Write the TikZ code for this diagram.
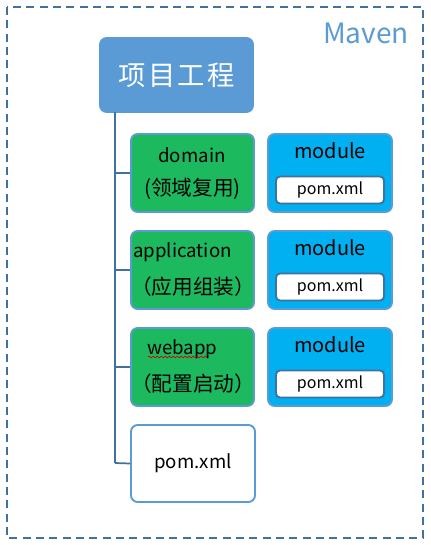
\documentclass[tikz,border=0pt]{standalone}
\usepackage{fontspec}
\setmainfont{Noto Sans CJK SC}
\usetikzlibrary{decorations.pathmorphing}
\definecolor{mblue}{HTML}{5B9BD5}
\definecolor{dblue}{HTML}{41719C}
\definecolor{mgreen}{HTML}{1DB95E}
\definecolor{mcyan}{HTML}{00B0F0}
\tikzset{
  box/.style={rounded corners=5pt, line width=1.4pt, draw=mblue},
  greenbox/.style={box, fill=mgreen},
  modbox/.style={box, fill=mcyan},
  innerbox/.style={rounded corners=3pt, line width=1.4pt, draw=dblue, fill=white},
  conn/.style={draw=dblue, line width=1.3pt},
  txt/.style={text=black, inner sep=0pt, font=\fontsize{14}{16}\selectfont},
  cjktxt/.style={text=black, inner sep=0pt, font=\fontsize{15.5}{17}\selectfont},
}
\begin{document}
\begin{tikzpicture}[x=0.75pt,y=-0.75pt]
\useasboundingbox (0,0) rectangle (430,545);
% outer dashed frame
\draw[dblue, line width=1.5pt, dash pattern=on 6pt off 4pt] (7,7) rectangle (423,538);
\node[text=mblue, inner sep=0pt, anchor=east, font=\fontsize{21}{24}\selectfont] (maven) at (409,33) {Maven};
% title
\node[box, fill=mblue, minimum width=153*0.75pt, minimum height=74*0.75pt, text=white, font=\fontsize{20.5}{24}\selectfont] (title) at (176.5,75) {项\kern1.6pt 目\kern1.6pt 工\kern1.6pt 程};
% vertical spine
\coordinate (top) at (115,112);
\coordinate (bot) at (115,463);
\draw[conn] (top) -- (bot);
% green boxes
\node[greenbox, minimum width=123*0.75pt, minimum height=78*0.75pt] (domain) at (192.5,173) {};
\node[greenbox, minimum width=123*0.75pt, minimum height=78*0.75pt] (app) at (192.5,270) {};
\node[greenbox, minimum width=123*0.75pt, minimum height=78*0.75pt] (web) at (192.5,367) {};
\node[txt] (domainA) at (192,155) {domain};
\node[cjktxt] (domainB) at (192.5,189) {(领域复用)};
\node[txt, anchor=west] (appA) at (133,252) {application};
\node[cjktxt] (appB) at (193,287) {（应用组装）};
\node[txt, anchor=west] (webA) at (147,349) {webapp};
\node[cjktxt] (webB) at (193,384) {（配置启动）};
\coordinate (wl) at (148,357);
\coordinate (wr) at (207,357);
\draw[red!80!black, line width=0.5pt, decorate, decoration={snake, amplitude=0.6pt, segment length=3pt}] (wl) -- (wr);
% module boxes
\foreach \n/\y in {m1/173, m2/270, m3/367}{
  \node[modbox, minimum width=124*0.75pt, minimum height=78*0.75pt] (\n) at (330,\y) {};
  \node[txt, font=\fontsize{15}{17}\selectfont] (\n t) at (330,\y-22) {module};
  \node[innerbox, minimum width=108*0.75pt, minimum height=27*0.75pt, inner sep=0pt, font=\fontsize{12}{14}\selectfont] (\n p) at (330,\y+17) {pom.xml};
}
% bottom pom
\node[box, fill=white, minimum width=124*0.75pt, minimum height=77*0.75pt, font=\fontsize{14}{16}\selectfont] (pom) at (193,463.5) {pom.xml};
% branches
\draw[conn] (115,173) -- (domain.west);
\draw[conn] (115,270) -- (app.west);
\draw[conn] (115,367) -- (web.west);
\draw[conn] (bot) -- (pom.west);
\end{tikzpicture}
\end{document}
